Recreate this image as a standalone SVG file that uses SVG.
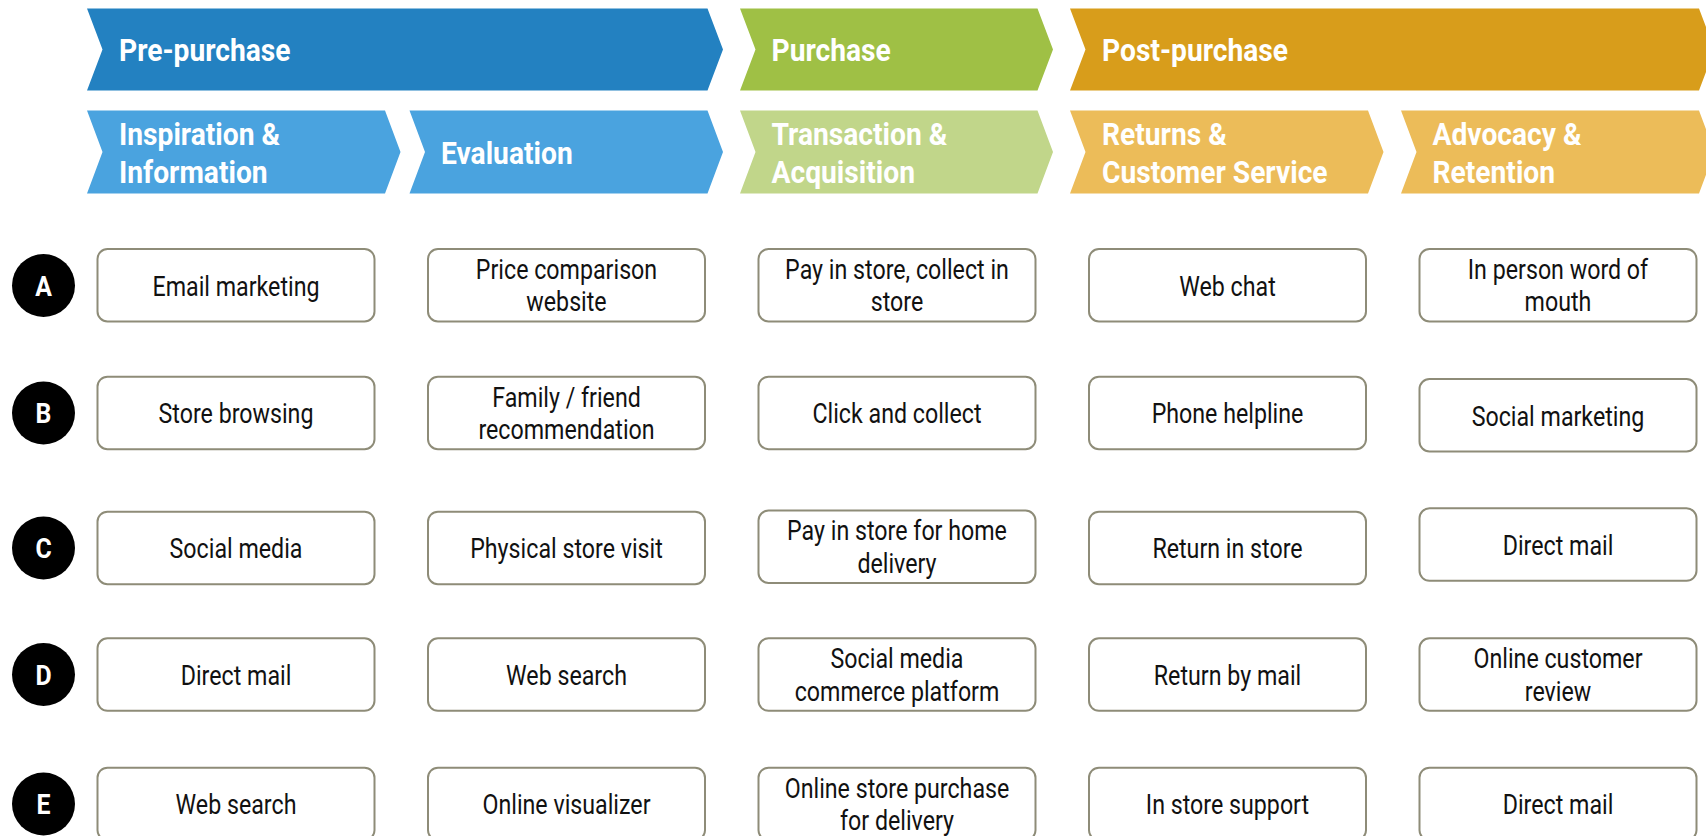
<svg xmlns="http://www.w3.org/2000/svg" width="1706" height="836" viewBox="0 0 1706 836">
  <style>
    .hd { font-family: Roboto, "Liberation Sans", sans-serif; font-weight: 700; font-size: 30.5px; fill: #ffffff; }
    .box { fill: #ffffff; stroke: #8e8c78; stroke-width: 2; }
    .bt { font-family: Roboto, "Liberation Sans", sans-serif; font-size: 27px; fill: #111111; text-anchor: middle; }
    .dot { fill: #000000; }
    .lt { font-family: Roboto, "Liberation Sans", sans-serif; font-weight: 700; font-size: 27px; fill: #ffffff; text-anchor: middle; }
  </style>
  <rect width="1706" height="836" fill="#ffffff"/>

  <!-- phase bands; labels are narrowed horizontally for a condensed face -->
  <g id="phase-pre">
    <path d="M87 8.5 H707.5 L723 49.5 L707.5 90.5 H87 L102.5 49.5 Z" fill="#2381c1"/>
    <text class="hd" transform="matrix(0.925 0 0 1 119 61)">Pre-purchase</text>
  </g>
  <g id="phase-purchase">
    <path d="M740 8.5 H1037.5 L1053 49.5 L1037.5 90.5 H740 L755.5 49.5 Z" fill="#9fc045"/>
    <text class="hd" transform="matrix(0.925 0 0 1 771.5 61)">Purchase</text>
  </g>
  <g id="phase-post">
    <path d="M1070 8.5 H1699 L1714.5 49.5 L1699 90.5 H1070 L1085.5 49.5 Z" fill="#d89d1b"/>
    <text class="hd" transform="matrix(0.925 0 0 1 1102 61)">Post-purchase</text>
  </g>

  <!-- stages -->
  <g id="stage-inspiration">
    <path d="M87 110.5 H385 L400.5 152 L385 193.5 H87 L102.5 152 Z" fill="#4aa3df"/>
    <text class="hd" transform="matrix(0.925 0 0 1 119 144.5)">Inspiration &amp;</text>
    <text class="hd" transform="matrix(0.925 0 0 1 119 183)">Information</text>
  </g>
  <g id="stage-evaluation">
    <path d="M409.5 110.5 H707.5 L723 152 L707.5 193.5 H409.5 L425 152 Z" fill="#4aa3df"/>
    <text class="hd" transform="matrix(0.925 0 0 1 441 163.5)">Evaluation</text>
  </g>
  <g id="stage-transaction">
    <path d="M740 110.5 H1037.5 L1053 152 L1037.5 193.5 H740 L755.5 152 Z" fill="#c1d68a"/>
    <text class="hd" transform="matrix(0.925 0 0 1 771.5 144.5)">Transaction &amp;</text>
    <text class="hd" transform="matrix(0.925 0 0 1 771.5 183)">Acquisition</text>
  </g>
  <g id="stage-returns">
    <path d="M1070 110.5 H1368 L1383.5 152 L1368 193.5 H1070 L1085.5 152 Z" fill="#ecbc59"/>
    <text class="hd" transform="matrix(0.925 0 0 1 1102 144.5)">Returns &amp;</text>
    <text class="hd" transform="matrix(0.925 0 0 1 1102 183)">Customer Service</text>
  </g>
  <g id="stage-advocacy">
    <path d="M1401 110.5 H1699 L1714.5 152 L1699 193.5 H1401 L1416.5 152 Z" fill="#ecbc59"/>
    <text class="hd" transform="matrix(0.925 0 0 1 1432.5 144.5)">Advocacy &amp;</text>
    <text class="hd" transform="matrix(0.925 0 0 1 1432.5 183)">Retention</text>
  </g>

  <!-- row markers -->
  <g id="marker-a"><circle class="dot" cx="43.5" cy="285.5" r="31.5"/><text class="lt" transform="matrix(0.92 0 0 1 43.5 295.5)">A</text></g>
  <g id="marker-b"><circle class="dot" cx="43.5" cy="413" r="31.5"/><text class="lt" transform="matrix(0.92 0 0 1 43.5 423)">B</text></g>
  <g id="marker-c"><circle class="dot" cx="43.5" cy="548" r="31.5"/><text class="lt" transform="matrix(0.92 0 0 1 43.5 558)">C</text></g>
  <g id="marker-d"><circle class="dot" cx="43.5" cy="674.5" r="31.5"/><text class="lt" transform="matrix(0.92 0 0 1 43.5 684.5)">D</text></g>
  <g id="marker-e"><circle class="dot" cx="43.5" cy="804" r="31.5"/><text class="lt" transform="matrix(0.92 0 0 1 43.5 814)">E</text></g>

  <!-- row A -->
  <g id="a1"><rect class="box" x="97.5" y="249" width="277" height="72.5" rx="10"/><text class="bt" transform="matrix(0.86 0 0 1 236 295.5)">Email marketing</text></g>
  <g id="a2"><rect class="box" x="428" y="249" width="277" height="72.5" rx="10"/><text class="bt" transform="matrix(0.86 0 0 1 566.5 278.75)">Price comparison</text><text class="bt" transform="matrix(0.86 0 0 1 566.5 311.25)">website</text></g>
  <g id="a3"><rect class="box" x="758.5" y="249" width="277" height="72.5" rx="10"/><text class="bt" transform="matrix(0.86 0 0 1 897 278.75)">Pay in store, collect in</text><text class="bt" transform="matrix(0.86 0 0 1 897 311.25)">store</text></g>
  <g id="a4"><rect class="box" x="1089" y="249" width="277" height="72.5" rx="10"/><text class="bt" transform="matrix(0.86 0 0 1 1227.5 295.5)">Web chat</text></g>
  <g id="a5"><rect class="box" x="1419.5" y="249" width="277" height="72.5" rx="10"/><text class="bt" transform="matrix(0.86 0 0 1 1558 278.75)">In person word of</text><text class="bt" transform="matrix(0.86 0 0 1 1558 311.25)">mouth</text></g>

  <!-- row B -->
  <g id="b1"><rect class="box" x="97.5" y="376.7" width="277" height="72.5" rx="10"/><text class="bt" transform="matrix(0.86 0 0 1 236 423.25)">Store browsing</text></g>
  <g id="b2"><rect class="box" x="428" y="376.7" width="277" height="72.5" rx="10"/><text class="bt" transform="matrix(0.86 0 0 1 566.5 406.5)">Family / friend</text><text class="bt" transform="matrix(0.86 0 0 1 566.5 439)">recommendation</text></g>
  <g id="b3"><rect class="box" x="758.5" y="376.7" width="277" height="72.5" rx="10"/><text class="bt" transform="matrix(0.86 0 0 1 897 423.25)">Click and collect</text></g>
  <g id="b4"><rect class="box" x="1089" y="376.7" width="277" height="72.5" rx="10"/><text class="bt" transform="matrix(0.86 0 0 1 1227.5 423.25)">Phone helpline</text></g>
  <g id="b5"><rect class="box" x="1419.5" y="379" width="277" height="72.5" rx="10"/><text class="bt" transform="matrix(0.86 0 0 1 1558 425.5)">Social marketing</text></g>

  <!-- row C -->
  <g id="c1"><rect class="box" x="97.5" y="511.7" width="277" height="72.5" rx="10"/><text class="bt" transform="matrix(0.86 0 0 1 236 558.25)">Social media</text></g>
  <g id="c2"><rect class="box" x="428" y="511.7" width="277" height="72.5" rx="10"/><text class="bt" transform="matrix(0.86 0 0 1 566.5 558.25)">Physical store visit</text></g>
  <g id="c3"><rect class="box" x="758.5" y="510.5" width="277" height="72.5" rx="10"/><text class="bt" transform="matrix(0.86 0 0 1 897 540.25)">Pay in store for home</text><text class="bt" transform="matrix(0.86 0 0 1 897 572.75)">delivery</text></g>
  <g id="c4"><rect class="box" x="1089" y="511.7" width="277" height="72.5" rx="10"/><text class="bt" transform="matrix(0.86 0 0 1 1227.5 558.25)">Return in store</text></g>
  <g id="c5"><rect class="box" x="1419.5" y="508.3" width="277" height="72.5" rx="10"/><text class="bt" transform="matrix(0.86 0 0 1 1558 554.75)">Direct mail</text></g>

  <!-- row D -->
  <g id="d1"><rect class="box" x="97.5" y="638.3" width="277" height="72.5" rx="10"/><text class="bt" transform="matrix(0.86 0 0 1 236 684.75)">Direct mail</text></g>
  <g id="d2"><rect class="box" x="428" y="638.3" width="277" height="72.5" rx="10"/><text class="bt" transform="matrix(0.86 0 0 1 566.5 684.75)">Web search</text></g>
  <g id="d3"><rect class="box" x="758.5" y="638.3" width="277" height="72.5" rx="10"/><text class="bt" transform="matrix(0.86 0 0 1 897 668)">Social media</text><text class="bt" transform="matrix(0.86 0 0 1 897 700.5)">commerce platform</text></g>
  <g id="d4"><rect class="box" x="1089" y="638.3" width="277" height="72.5" rx="10"/><text class="bt" transform="matrix(0.86 0 0 1 1227.5 684.75)">Return by mail</text></g>
  <g id="d5"><rect class="box" x="1419.5" y="638.3" width="277" height="72.5" rx="10"/><text class="bt" transform="matrix(0.86 0 0 1 1558 668)">Online customer</text><text class="bt" transform="matrix(0.86 0 0 1 1558 700.5)">review</text></g>

  <!-- row E -->
  <g id="e1"><rect class="box" x="97.5" y="767.7" width="277" height="72.5" rx="10"/><text class="bt" transform="matrix(0.86 0 0 1 236 814.25)">Web search</text></g>
  <g id="e2"><rect class="box" x="428" y="767.7" width="277" height="72.5" rx="10"/><text class="bt" transform="matrix(0.86 0 0 1 566.5 814.25)">Online visualizer</text></g>
  <g id="e3"><rect class="box" x="758.5" y="767.7" width="277" height="72.5" rx="10"/><text class="bt" transform="matrix(0.86 0 0 1 897 797.5)">Online store purchase</text><text class="bt" transform="matrix(0.86 0 0 1 897 830)">for delivery</text></g>
  <g id="e4"><rect class="box" x="1089" y="767.7" width="277" height="72.5" rx="10"/><text class="bt" transform="matrix(0.86 0 0 1 1227.5 814.25)">In store support</text></g>
  <g id="e5"><rect class="box" x="1419.5" y="767.7" width="277" height="72.5" rx="10"/><text class="bt" transform="matrix(0.86 0 0 1 1558 814.25)">Direct mail</text></g>
</svg>
